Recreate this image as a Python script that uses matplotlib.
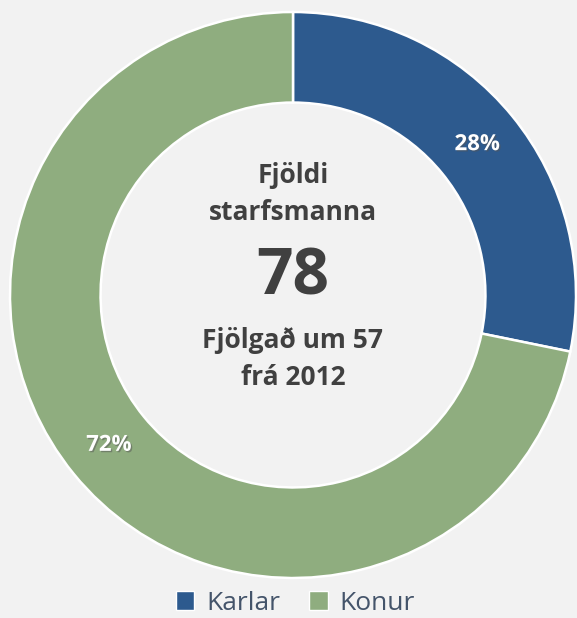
import matplotlib
matplotlib.use("Agg")
import matplotlib.pyplot as plt
import matplotlib.patheffects as pe
from matplotlib.patches import Patch
import numpy as np

# data
labels = ["Karlar", "Konur"]
counts = [22, 56]
pct_labels = ["28%", "72%"]
colors = ["#2d5a8e", "#8fad7f"]
center_lines = ["Fjöldi", "starfsmanna", "78", "Fjölgað um 57", "frá 2012"]

plt.rcParams["font.family"] = ["Open Sans", "DejaVu Sans"]
bg = "#f2f2f2"

fig = plt.figure(figsize=(5.77, 6.18), dpi=100, facecolor=bg)
ax = fig.add_axes([10 / 577, 40 / 618, 566 / 577, 566 / 618])
ax.set_facecolor(bg)

ring = 0.32
wedges, _ = ax.pie(counts, colors=colors, startangle=90, counterclock=False,
                   radius=1, wedgeprops=dict(width=ring, edgecolor="white", linewidth=1.8))
ax.set_xlim(-1, 1)
ax.set_ylim(-1, 1)
ax.set_aspect("equal")
ax.axis("off")

# percentage labels at the middle of each wedge
r_mid = 1 - ring / 2
for w, txt in zip(wedges, pct_labels):
    ang = np.deg2rad((w.theta1 + w.theta2) / 2)
    ax.text(r_mid * np.cos(ang), r_mid * np.sin(ang), txt, ha="center", va="center",
            color="white", fontsize=16, fontweight="bold",
            path_effects=[pe.withSimplePatchShadow(offset=(1, -1), shadow_rgbFace="#555555", alpha=0.5)])

# center text
dark = "#404040"
ax.text(0, 0.424, center_lines[0], ha="center", va="center", fontsize=19, fontweight="bold", color=dark)
ax.text(0, 0.29, center_lines[1], ha="center", va="center", fontsize=19, fontweight="bold", color=dark)
ax.text(0, 0.06, center_lines[2], ha="center", va="center", fontsize=46, fontweight="bold", color=dark)
ax.text(0, -0.16, center_lines[3], ha="center", va="center", fontsize=19, fontweight="bold", color=dark)
ax.text(0, -0.293, center_lines[4], ha="center", va="center", fontsize=19, fontweight="bold", color=dark)

handles = [Patch(facecolor=c, edgecolor="white", label=l) for c, l in zip(colors, labels)]
leg = fig.legend(handles=handles, loc="center", bbox_to_anchor=(0.5 + 7 / 577, 15 / 618), ncol=2,
                 frameon=False, fontsize=19, handlelength=0.7, handleheight=0.7,
                 handletextpad=0.45, columnspacing=1.1, labelcolor="#44546a",
                 borderpad=0.1)

fig.savefig("out.png", dpi=100, facecolor=bg)
